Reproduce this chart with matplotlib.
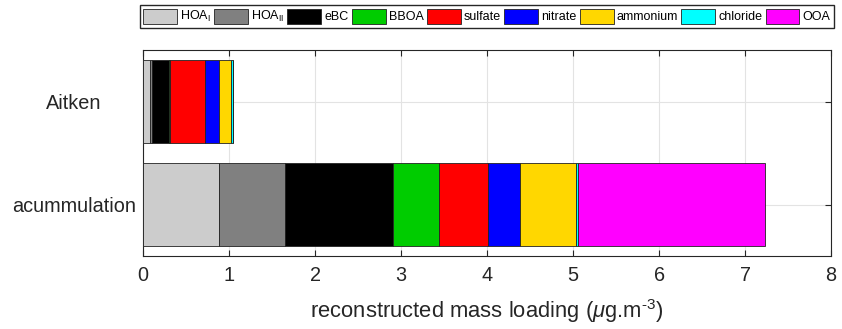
import matplotlib.pyplot as plt
import numpy as np

plt.rcParams["font.family"] = ["Liberation Sans", "DejaVu Sans"]
plt.rcParams["mathtext.fontset"] = "custom"
plt.rcParams["mathtext.rm"] = "Liberation Sans"
plt.rcParams["mathtext.it"] = "Liberation Sans:italic"

# === Data ===
modes = ["Aitken", "acummulation"]
species = ["HOA$_\\mathrm{I}$", "HOA$_\\mathrm{II}$", "eBC", "BBOA", "sulfate",
           "nitrate", "ammonium", "chloride", "OOA"]
colors = ["#cccccc", "#808080", "#000000", "#00cc00", "#ff0000",
          "#0000ff", "#ffd700", "#00ffff", "#ff00ff"]

# mass loading per species (ug m-3): [Aitken, acummulation]
hoa1 = [0.085, 0.877]
hoa2 = [0.023, 0.778]
ebc = [0.19, 1.256]
bboa = [0.015, 0.530]
sulfate = [0.405, 0.570]
nitrate = [0.167, 0.374]
ammonium = [0.139, 0.644]
chloride = [0.024, 0.031]
ooa = [0.0, 2.169]

stack = [hoa1, hoa2, ebc, bboa, sulfate, nitrate, ammonium, chloride, ooa]

# === Plot ===
fig = plt.figure(figsize=(8.42, 3.29), dpi=100)
ax = fig.add_axes([0.170, 0.221, 0.817, 0.627])

ypos = np.arange(1, len(modes) + 1)
left = np.zeros(len(modes))
handles = []
for vals, lab, col in zip(stack, species, colors):
    b = ax.barh(ypos, vals, height=0.8, left=left, color=col,
                edgecolor="#222222", linewidth=0.6, label=lab, zorder=3)
    handles.append(b)
    left += np.array(vals)

ax.set_xlim(0, 8)
ax.set_ylim(2.5, 0.5)
ax.set_xticks(range(0, 9))
ax.set_yticks(ypos)
ax.set_yticklabels(modes, ha="center")
ax.grid(True, color="#e3e3e3", linewidth=0.8, zorder=0)
ax.set_axisbelow(True)

ax.tick_params(direction="in", top=True, right=True, length=4,
               labelsize=14.3, colors="#262626", pad=7)
ax.tick_params(axis="y", pad=50)
for s in ax.spines.values():
    s.set_color("#262626")
    s.set_linewidth(0.8)

ax.set_xlabel("reconstructed mass loading ($\\mu$g.m$^{\u20103}$)",
              fontsize=15.8, color="#262626", labelpad=9)

fig.legend(handles=handles, labels=species, loc="center",
           bbox_to_anchor=(0.578, 0.95), ncol=9, fontsize=9,
           frameon=True, fancybox=False, edgecolor="#262626", framealpha=1,
           handlelength=2.7, handleheight=1.5, handletextpad=0.25,
           columnspacing=0.27, borderpad=0.25, borderaxespad=0)

fig.savefig("out.png", dpi=100)
